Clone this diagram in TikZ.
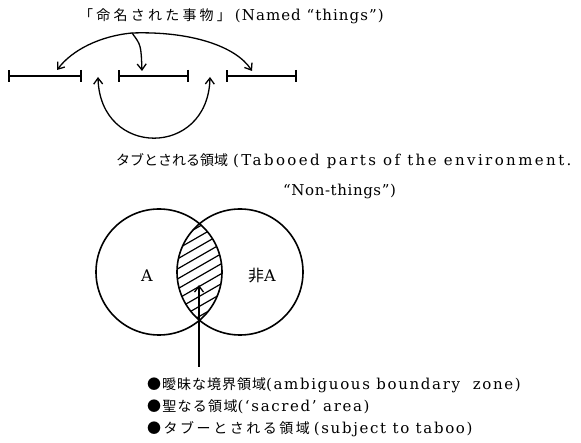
\documentclass[tikz,border=0pt]{standalone}
\usepackage{fontspec}
\setmainfont{DejaVu Serif}
\newfontfamily\jp{Noto Sans CJK JP}
\usetikzlibrary{arrows.meta}
\newcommand{\lsp}[1]{\addfontfeature{LetterSpace=#1}}
\newcommand{\jpsz}[1]{\fontsize{#1}{#1}\selectfont}
\begin{document}
\begin{tikzpicture}[x=1pt,y=-1pt,
  seg/.style={line width=1.6pt,{Bar[width=12pt,line width=1.6pt]}-{Bar[width=12pt,line width=1.6pt]}},
  arr/.style={line width=1.3pt,-{Straight Barb[length=6pt,width=9pt,line width=1.3pt]}},
  darr/.style={line width=1.3pt,{Straight Barb[length=6pt,width=9pt,line width=1.3pt]}-{Straight Barb[length=6pt,width=9pt,line width=1.3pt]}},
  txt/.style={anchor=base west,inner sep=0pt,font=\fontsize{15}{18}\selectfont},
  ring/.style={circle,draw,line width=1.6pt,minimum size=126pt,inner sep=0pt},
  lbl/.style={inner sep=0pt,font=\fontsize{16}{18}\selectfont}]
\useasboundingbox (0,0) rectangle (581,443);
% title
\node[txt] (named) at (79,21) {{\jp\jpsz{14}\lsp{23}「命名された事物」}\hspace{4pt}{\lsp{7}(Named “things”)}};
\coordinate (src) at (132,33);
% segments
\coordinate (s1a) at (8,76);   \coordinate (s1b) at (82,76);
\coordinate (s2a) at (118,76); \coordinate (s2b) at (189,76);
\coordinate (s3a) at (226,76); \coordinate (s3b) at (297,76);
\draw[seg] (s1a) -- (s1b);
\draw[seg] (s2a) -- (s2b);
\draw[seg] (s3a) -- (s3b);
% arrow tips
\coordinate (t1) at (57,70);
\coordinate (t2) at (142,71);
\coordinate (t3) at (252,71);
\draw[arr] (src) .. controls (100,36) and (72,50) .. (t1);
\draw[arr] (src) .. controls (141,45) .. (t2);
\draw[arr] (src) .. controls (190,31) and (236,46) .. (t3);
\coordinate (g1) at (98,77);
\coordinate (g2) at (210,77);
\draw[darr] (g1) .. controls (100,158) and (208,158) .. (g2);
% second caption
\node[txt] (taboo) at (116,166) {{\jp\jpsz{14}タブとされる領域}\hspace{5pt}{\lsp{16}(Tabooed parts of the environment.}};
\node[txt] (nonthings) at (283,196) {{\lsp{4}“Non-things”)}};
% venn
\node[ring] (cA) at (159,272) {};
\node[ring] (cB) at (240,272) {};
\begin{scope}
  \clip (159,272) circle (63pt);
  \clip (240,272) circle (63pt);
  \foreach \k in {-16,...,16} {
    \draw[line width=1.2pt] (120,272+10*\k) -- (280,272+10*\k-92);
  }
\end{scope}
\node[lbl] (la) at (147,276) {A};
\node[lbl] (lb) at (262,276) {{\jp 非}A};
\coordinate (foot) at (199,367);
\coordinate (head) at (199,285);
\draw[arr] (foot) -- (head);
% bullets
\node[txt] (b1) at (147,390) {{\jp\jpsz{14}\lsp{7}●曖昧な境界領域}{\lsp{11}(ambiguous boundary\ \ zone)}};
\node[txt] (b2) at (147,411.5) {{\jp\jpsz{14}\lsp{9}●聖なる領域}{\lsp{11}(‘sacred’ area)}};
\node[txt] (b3) at (147,433) {{\jp\jpsz{14}\lsp{18}●タブーとされる領域}\hspace{4pt}{\lsp{11}(subject to taboo)}};
\end{tikzpicture}
\end{document}
